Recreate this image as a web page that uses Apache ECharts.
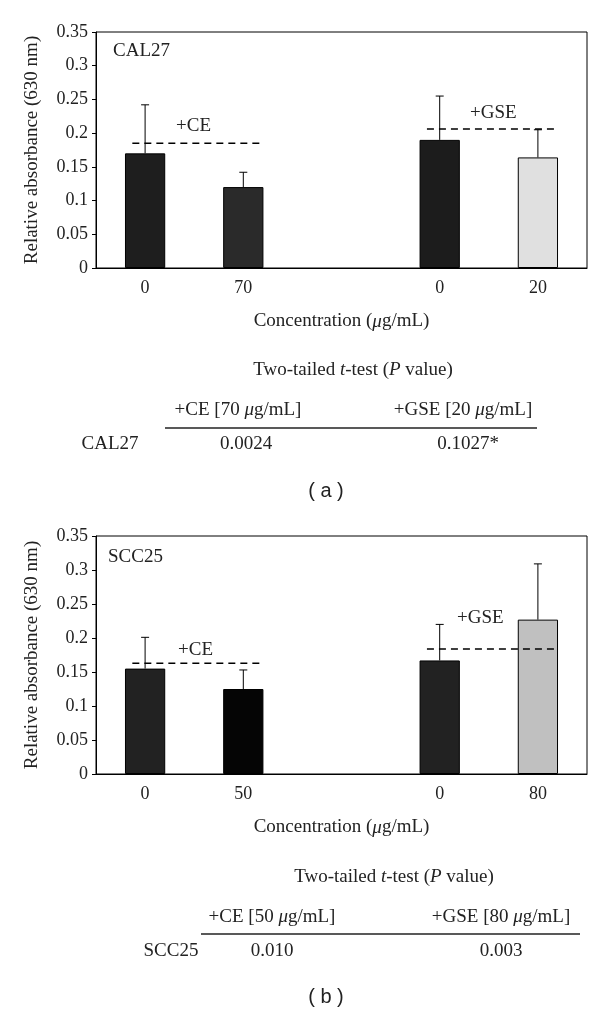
<!DOCTYPE html>
<html>
<head>
<meta charset="utf-8">
<script src="https://cdn.jsdelivr.net/npm/echarts@6/dist/echarts.min.js"></script>
<style>
  html, body { margin: 0; padding: 0; background: #fff; }
  #chart { width: 600px; height: 1011px; }
</style>
</head>
<body>
<div id="chart"></div>
<script>
  // panel (a) CAL27
  var catsA = ['0', '70', '', '0', '20']
  var valsA = [0.170, 0.120, null, 0.190, 0.164]
  var errA = [0.072, 0.022, null, 0.065, 0.041]
  var colorsA = ['#1e1e1e', '#2a2a2a', null, '#1c1c1c', '#e0e0e0']
  var ceLineA = [[-0.13, 0.185], [1.21, 0.185]]
  var gseLineA = [[2.87, 0.206], [4.2, 0.206]]

  // panel (b) SCC25
  var catsB = ['0', '50', '', '0', '80']
  var valsB = [0.155, 0.125, null, 0.167, 0.227]
  var errB = [0.046, 0.028, null, 0.053, 0.082]
  var colorsB = ['#222222', '#050505', null, '#222222', '#c0c0c0']
  var ceLineB = [[-0.13, 0.163], [1.21, 0.163]]
  var gseLineB = [[2.87, 0.184], [4.2, 0.184]]

  var yTicks = { min: 0, max: 0.35, interval: 0.05 }

  var serif = '"Liberation Serif", "DejaVu Serif", serif'
  var rich = {
    i: { fontStyle: 'italic', fontFamily: serif, fontSize: 19, fill: '#222', color: '#222' }
  }

  var chart = echarts.init(document.getElementById('chart'))

  function barData(vals, colors) {
    return vals.map(function(v, i) {
      if (v === null) return null
      return { value: v, itemStyle: { color: colors[i] } }
    })
  }
  function errData(vals, errs) {
    var out = []
    vals.forEach(function(v, i) {
      if (v !== null) out.push([i, v, errs[i]])
    })
    return out
  }
  function renderErr(params, api) {
    var p0 = api.coord([api.value(0), api.value(1)])
    var p1 = api.coord([api.value(0), api.value(1) + api.value(2)])
    var st = { stroke: '#000', lineWidth: 1 }
    return {
      type: 'group',
      children: [
        { type: 'line', shape: { x1: p0[0], y1: p0[1], x2: p1[0], y2: p1[1] }, style: st },
        { type: 'line', shape: { x1: p1[0] - 4, y1: p1[1], x2: p1[0] + 4, y2: p1[1] }, style: st }
      ]
    }
  }

  function catAxis(grid, cats) {
    return {
      type: 'category',
      gridIndex: grid,
      data: cats,
      name: 'Concentration ({i|μ}g/mL)',
      nameLocation: 'middle',
      nameGap: 44,
      nameTextStyle: { fontFamily: serif, fontSize: 19, color: '#222', rich: rich },
      axisLine: { onZero: false, lineStyle: { color: '#000', width: 1 } },
      axisTick: { length: 5, interval: 0, lineStyle: { color: '#000' } },
      axisLabel: { interval: 0, margin: 11, fontFamily: serif, fontSize: 18, color: '#222' }
    }
  }
  function hiddenX(grid) {
    return { type: 'value', gridIndex: grid, min: -0.5, max: 4.5, show: false }
  }
  function valAxis(grid) {
    return {
      type: 'value',
      gridIndex: grid,
      min: yTicks.min,
      max: yTicks.max,
      interval: yTicks.interval,
      name: 'Relative absorbance (630 nm)',
      nameLocation: 'middle',
      nameRotate: 90,
      nameGap: 54,
      nameTextStyle: { fontFamily: serif, fontSize: 19, color: '#222' },
      axisLine: { show: true, onZero: false, lineStyle: { color: '#000', width: 1 } },
      axisTick: { show: true, length: 4, lineStyle: { color: '#000' } },
      axisLabel: { margin: 8, fontFamily: serif, fontSize: 18, color: '#222' },
      splitLine: { show: false }
    }
  }
  function dashed(xi, yi, data) {
    return {
      type: 'line', xAxisIndex: xi, yAxisIndex: yi, data: data,
      symbol: 'none', silent: true, z: 5,
      lineStyle: { color: '#000', width: 1.5, type: [7, 5] }
    }
  }

  function txt(x, y, text, align, size, family) {
    return {
      type: 'text', x: x, y: y,
      style: {
        text: text, textAlign: align || 'center', textVerticalAlign: 'middle',
        fontFamily: family || serif, fontSize: size || 19, fill: '#222', rich: rich
      }
    }
  }
  function hline(x1, x2, y) {
    return { type: 'line', shape: { x1: x1, y1: y, x2: x2, y2: y }, style: { stroke: '#222', lineWidth: 1.5 } }
  }

  var sans = '"Liberation Sans", Arial, sans-serif'

  chart.setOption({
    animation: false,
    grid: [
      { left: 96, top: 32, width: 491, height: 236, show: true, borderColor: '#000', borderWidth: 1 },
      { left: 96, top: 536, width: 491, height: 238, show: true, borderColor: '#000', borderWidth: 1 }
    ],
    xAxis: [catAxis(0, catsA), hiddenX(0), catAxis(1, catsB), hiddenX(1)],
    yAxis: [valAxis(0), valAxis(1)],
    series: [
      {
        type: 'bar', xAxisIndex: 0, yAxisIndex: 0, barWidth: '41%',
        data: barData(valsA, colorsA),
        itemStyle: { borderColor: '#000', borderWidth: 1 }
      },
      { type: 'custom', xAxisIndex: 0, yAxisIndex: 0, data: errData(valsA, errA), renderItem: renderErr, z: 1 },
      dashed(1, 0, ceLineA),
      dashed(1, 0, gseLineA),
      {
        type: 'bar', xAxisIndex: 2, yAxisIndex: 1, barWidth: '41%',
        data: barData(valsB, colorsB),
        itemStyle: { borderColor: '#000', borderWidth: 1 }
      },
      { type: 'custom', xAxisIndex: 2, yAxisIndex: 1, data: errData(valsB, errB), renderItem: renderErr, z: 1 },
      dashed(3, 1, ceLineB),
      dashed(3, 1, gseLineB)
    ],
    graphic: [
      txt(113, 51, 'CAL27', 'left'),
      txt(176, 126, '+CE', 'left'),
      txt(470, 113, '+GSE', 'left'),
      txt(353, 370, 'Two-tailed {i|t}-test ({i|P} value)'),
      txt(238, 410, '+CE [70 {i|μ}g/mL]'),
      txt(463, 410, '+GSE [20 {i|μ}g/mL]'),
      hline(165, 537, 428),
      txt(110, 444, 'CAL27'),
      txt(246, 444, '0.0024'),
      txt(468, 444, '0.1027*'),
      txt(326, 491, '( a )', 'center', 20, sans),

      txt(108, 557, 'SCC25', 'left'),
      txt(178, 650, '+CE', 'left'),
      txt(457, 618, '+GSE', 'left'),
      txt(394, 877, 'Two-tailed {i|t}-test ({i|P} value)'),
      txt(272, 917, '+CE [50 {i|μ}g/mL]'),
      txt(501, 917, '+GSE [80 {i|μ}g/mL]'),
      hline(201, 580, 934),
      txt(171, 951, 'SCC25'),
      txt(272, 951, '0.010'),
      txt(501, 951, '0.003'),
      txt(326, 997, '( b )', 'center', 20, sans)
    ]
  })
</script>
</body>
</html>
